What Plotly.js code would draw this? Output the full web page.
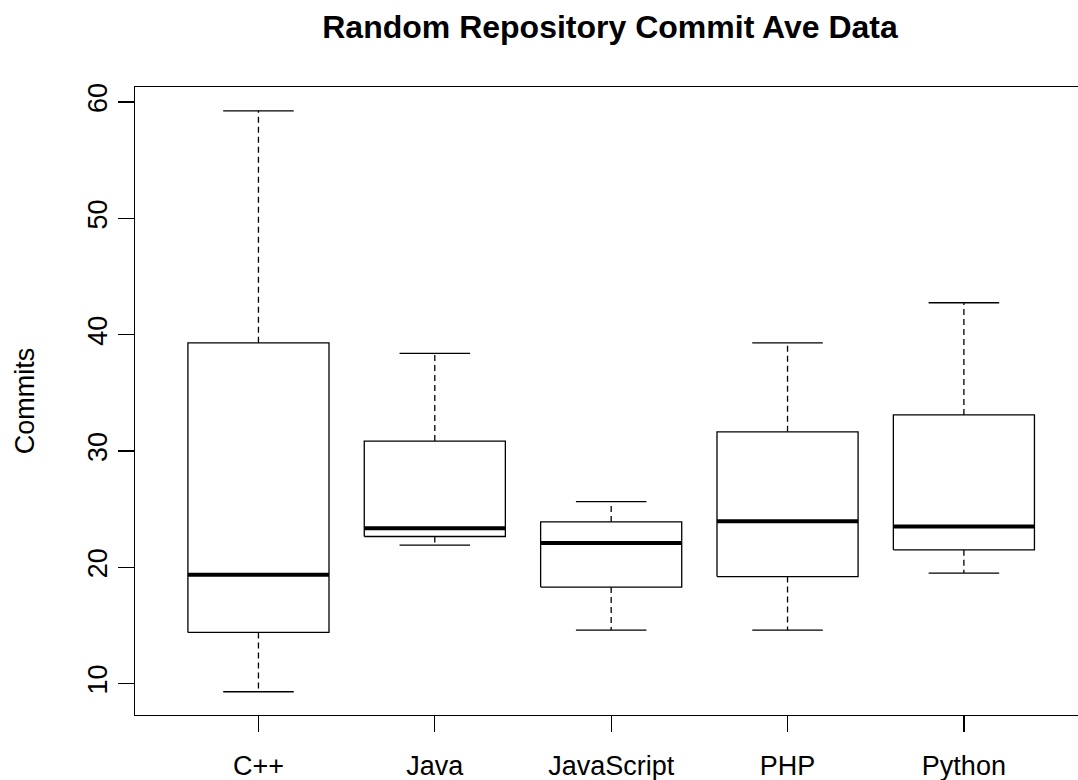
<!DOCTYPE html>
<html>
<head>
<meta charset="utf-8">
<script src="https://cdn.plot.ly/plotly-3.0.1.min.js"></script>
<style>
  html, body { margin: 0; padding: 0; background: #ffffff; overflow: hidden; }
  #chart { width: 1078px; height: 780px; }
</style>
</head>
<body>
<div id="chart"></div>
<script>
// ---- data ----
const categories = ['C++', 'Java', 'JavaScript', 'PHP', 'Python'];
const lowerWhisker = [9.3, 21.9, 14.6, 14.6, 19.5];
const lowerQuartile = [14.4, 22.65, 18.3, 19.2, 21.5];
const medians = [19.35, 23.35, 22.1, 23.95, 23.5];
const upperQuartile = [39.3, 30.85, 23.9, 31.65, 33.1];
const upperWhisker = [59.25, 38.4, 25.65, 39.3, 42.75];
const yTicks = [10, 20, 30, 40, 50, 60];

// ---- styling constants ----
const HALF_BOX = 0.4;     // boxwex 0.8
const HALF_CAP = 0.2;     // staple half width
const INK = '#000000';

const positions = categories.map((c, i) => i + 1);

const boxX = [], boxY = [];
const medX = [], medY = [];
const whiskX = [], whiskY = [];
const capX = [], capY = [];

positions.forEach((p, i) => {
  boxX.push(p - HALF_BOX, p + HALF_BOX, p + HALF_BOX, p - HALF_BOX, p - HALF_BOX, null);
  boxY.push(lowerQuartile[i], lowerQuartile[i], upperQuartile[i], upperQuartile[i], lowerQuartile[i], null);

  medX.push(p - HALF_BOX, p + HALF_BOX, null);
  medY.push(medians[i], medians[i], null);

  whiskX.push(p, p, null, p, p, null);
  whiskY.push(upperQuartile[i], upperWhisker[i], null, lowerQuartile[i], lowerWhisker[i], null);

  capX.push(p - HALF_CAP, p + HALF_CAP, null, p - HALF_CAP, p + HALF_CAP, null);
  capY.push(upperWhisker[i], upperWhisker[i], null, lowerWhisker[i], lowerWhisker[i], null);
});

const common = { type: 'scatter', mode: 'lines', hoverinfo: 'skip', showlegend: false, connectgaps: false };

const traces = [
  Object.assign({}, common, { x: whiskX, y: whiskY, line: { color: INK, width: 1.3, dash: '6px,4px' } }),
  Object.assign({}, common, { x: capX, y: capY, line: { color: INK, width: 1.3 } }),
  Object.assign({}, common, { x: boxX, y: boxY, fill: 'toself', fillcolor: 'rgba(255,255,255,1)', line: { color: INK, width: 1.3 } }),
  Object.assign({}, common, { x: medX, y: medY, line: { color: INK, width: 4 } })
];

const layout = {
  width: 1078,
  height: 780,
  margin: { l: 135, r: 0, t: 87, b: 65, pad: 0 },
  paper_bgcolor: '#ffffff',
  plot_bgcolor: '#ffffff',
  font: { family: '"Liberation Sans", Arial, sans-serif', color: '#000000', size: 27 },
  title: {
    text: '<b>Random Repository Commit Ave Data</b>',
    font: { family: '"Liberation Sans", Arial, sans-serif', size: 32, color: '#000000' },
    xref: 'container', x: 610 / 1078, xanchor: 'center',
    yref: 'container', y: 1 - 27 / 780, yanchor: 'middle'
  },
  xaxis: {
    range: [0.3, 5.647],
    tickmode: 'array',
    tickvals: positions,
    ticktext: categories,
    ticks: 'outside',
    ticklen: 16,
    tickwidth: 1.3,
    tickcolor: INK,
    showgrid: false,
    zeroline: false,
    showline: true,
    linecolor: INK,
    linewidth: 1.4,
    mirror: true,
    tickfont: { size: 27 },
    ticklabelstandoff: 10,
    fixedrange: true
  },
  yaxis: {
    range: [7.3, 61.3],
    tickmode: 'array',
    tickvals: yTicks,
    ticktext: yTicks.map(String),
    tickangle: -90,
    ticks: 'outside',
    ticklen: 16,
    tickwidth: 1.3,
    tickcolor: INK,
    showgrid: false,
    zeroline: false,
    showline: true,
    linecolor: INK,
    linewidth: 1.4,
    mirror: false,
    tickfont: { size: 27 },
    ticklabelstandoff: 0,
    title: { text: 'Commits', font: { size: 27 }, standoff: 40 },
    fixedrange: true
  },
  hovermode: false
};

Plotly.newPlot('chart', traces, layout, { displayModeBar: false, staticPlot: true });
</script>
</body>
</html>
